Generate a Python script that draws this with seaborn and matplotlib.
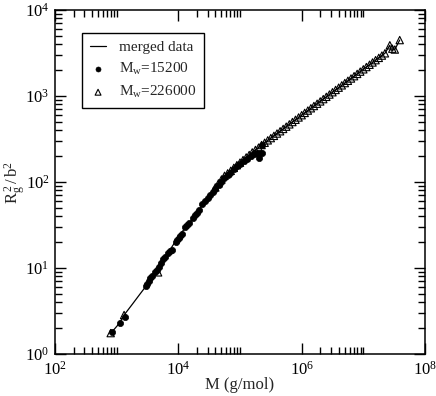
import matplotlib
matplotlib.use('Agg')
import matplotlib.pyplot as plt
import matplotlib.ticker as mticker
import seaborn as sns
import pandas as pd

# merged data (line)
merged_M = [800, 830, 1120, 1320, 1800, 2400, 3070, 4000, 5000, 7300, 10700, 15500, 20000,
            29000, 39800, 53500, 79400, 112000, 158000, 224000, 316000, 501000, 794000,
            1.0e6, 1.58e6, 2.51e6, 3.98e6, 6.31e6, 1.0e7, 1.58e7, 2.24e7, 2.69e7, 2.82e7,
            3.24e7, 3.89e7]
merged_R = [1.75, 1.79, 2.3, 2.84, 3.8, 5.0, 6.3, 8.7, 11.4, 16.2, 24.8, 34, 43.6,
            65, 86.5, 115, 146, 180, 221, 269, 324, 414, 529,
            598, 765, 978, 1250, 1598, 2043, 2610, 3137, 3890, 3400,
            3470, 4470]

# Mw = 15200 (filled circles)
m15_M = [830, 1120, 1365, 3000, 3150, 3300, 3500, 3700, 4200, 4500, 4800, 5200,
         5600, 6000, 6800, 7400, 8000, 9000, 9500, 10200, 10800, 11500, 13000, 14000,
         15000, 17000, 18500, 20000, 21500, 24000, 27000, 30000, 33000, 36000, 40000,
         45000, 50000, 56000, 63000, 70000, 80000, 90000, 100000, 115000, 130000,
         150000, 170000, 190000, 200000, 210000, 225000, 230000]
m15_R = [1.8, 2.3, 2.72, 6.2, 6.6, 7.0, 7.6, 8.0, 8.9, 9.6, 10.4, 11.3,
         12.8, 13.6, 15.0, 15.8, 16.3, 20, 21.3, 22.5, 23.7, 25, 30, 32,
         33.5, 38, 41, 44, 47, 55, 60, 65, 70, 76, 83,
         92, 100, 110, 120, 128, 140, 152, 162, 175, 185,
         198, 210, 220, 190, 215, 270, 220]

# Mw = 226000 (open triangles)
m226_M = [800, 1320, 4700, 39800, 44700, 50100, 56200, 63100, 70800, 79400, 89100,
          100000, 112000, 126000, 141000, 158000, 178000, 200000, 224000, 251000,
          282000, 316000, 355000, 398000, 447000, 501000, 562000, 631000, 708000,
          794000, 891000, 1.0e6, 1.12e6, 1.26e6, 1.41e6, 1.58e6, 1.78e6, 2.0e6,
          2.24e6, 2.51e6, 2.82e6, 3.16e6, 3.55e6, 3.98e6, 4.47e6, 5.01e6, 5.62e6,
          6.31e6, 7.08e6, 7.94e6, 8.91e6, 1.0e7, 1.12e7, 1.26e7, 1.41e7, 1.58e7,
          1.78e7, 2.0e7, 2.24e7, 2.69e7, 2.95e7, 3.24e7, 3.89e7]
m226_R = [1.75, 2.84, 8.9, 86.5, 96.4, 107, 118, 126, 135, 146, 157,
          168, 180, 193, 206, 221, 236, 251, 269, 286,
          305, 324, 344, 366, 389, 414, 440, 468, 498,
          529, 563, 598, 636, 677, 720, 765, 813, 865,
          920, 978, 1040, 1106, 1176, 1250, 1330, 1414, 1503,
          1598, 1700, 1807, 1921, 2043, 2172, 2309, 2455, 2610,
          2775, 2951, 3137, 3890, 3550, 3470, 4470]

sns.set_style('ticks')
plt.rcParams['font.family'] = ['Liberation Serif', 'DejaVu Serif']
plt.rcParams['mathtext.fontset'] = 'custom'
plt.rcParams['mathtext.rm'] = 'Liberation Serif'
plt.rcParams['mathtext.it'] = 'Liberation Serif:italic'
plt.rcParams['font.size'] = 12

fig = plt.figure(figsize=(4.36, 3.96), dpi=100)
ax = fig.add_axes([55 / 436, 42 / 396, 370 / 436, 344 / 396])

merged = pd.DataFrame({'M': merged_M, 'R': merged_R})
d15 = pd.DataFrame({'M': m15_M, 'R': m15_R})
d226 = pd.DataFrame({'M': m226_M, 'R': m226_R})

sns.lineplot(data=merged, x='M', y='R', ax=ax, color='black', lw=0.9,
             estimator=None, sort=False, label='merged data', zorder=2)
sns.scatterplot(data=d15, x='M', y='R', ax=ax, marker='o', color='black',
                s=20, edgecolor='black', linewidth=0.5,
                label=r'$\mathregular{M_w}$=15200', zorder=3)
sns.scatterplot(data=d226, x='M', y='R', ax=ax, marker='^', color='black',
                facecolor='none', edgecolor='black', s=28, linewidth=0.8,
                label=r'$\mathregular{M_w}$=226000', zorder=3)

ax.set_xscale('log')
ax.set_yscale('log')
ax.set_xlim(1e2, 1e8)
ax.set_ylim(1e0, 1e4)

ax.xaxis.set_major_locator(mticker.FixedLocator([1e2, 1e4, 1e6, 1e8]))
ax.xaxis.set_minor_locator(mticker.FixedLocator(
    [k * 10.0 ** n for n in (2, 4, 6) for k in range(2, 11)]))
ax.xaxis.set_major_formatter(mticker.LogFormatterMathtext())
ax.yaxis.set_major_locator(mticker.LogLocator(base=10, numticks=10))
ax.yaxis.set_minor_locator(mticker.LogLocator(base=10, subs=range(2, 10), numticks=10))
ax.yaxis.set_minor_formatter(mticker.NullFormatter())
ax.xaxis.set_minor_formatter(mticker.NullFormatter())

ax.tick_params(which='both', direction='in', top=True, right=True, width=1,
               labelsize=12, colors='black')
ax.tick_params(which='major', length=8, pad=4)
ax.tick_params(axis='x', which='major', pad=5)
ax.tick_params(which='minor', length=5)
for sp in ax.spines.values():
    sp.set_linewidth(1.1)
    sp.set_color('black')

ax.set_xlabel('M (g/mol)', fontsize=12, labelpad=-1)
ax.set_ylabel(r'$\mathregular{R_g^{\,2}\,/\,b^2}$', fontsize=12, labelpad=-2)

leg = ax.legend(loc='upper left', bbox_to_anchor=(0.073, 0.933), borderaxespad=0,
                frameon=True, fancybox=False, edgecolor='black', fontsize=11,
                handlelength=1.1, handletextpad=0.8, borderpad=0.5,
                labelspacing=0.45, markerscale=0.8)
leg.get_frame().set_linewidth(1)
leg.get_frame().set_alpha(1)

fig.savefig('out.png', dpi=100)
